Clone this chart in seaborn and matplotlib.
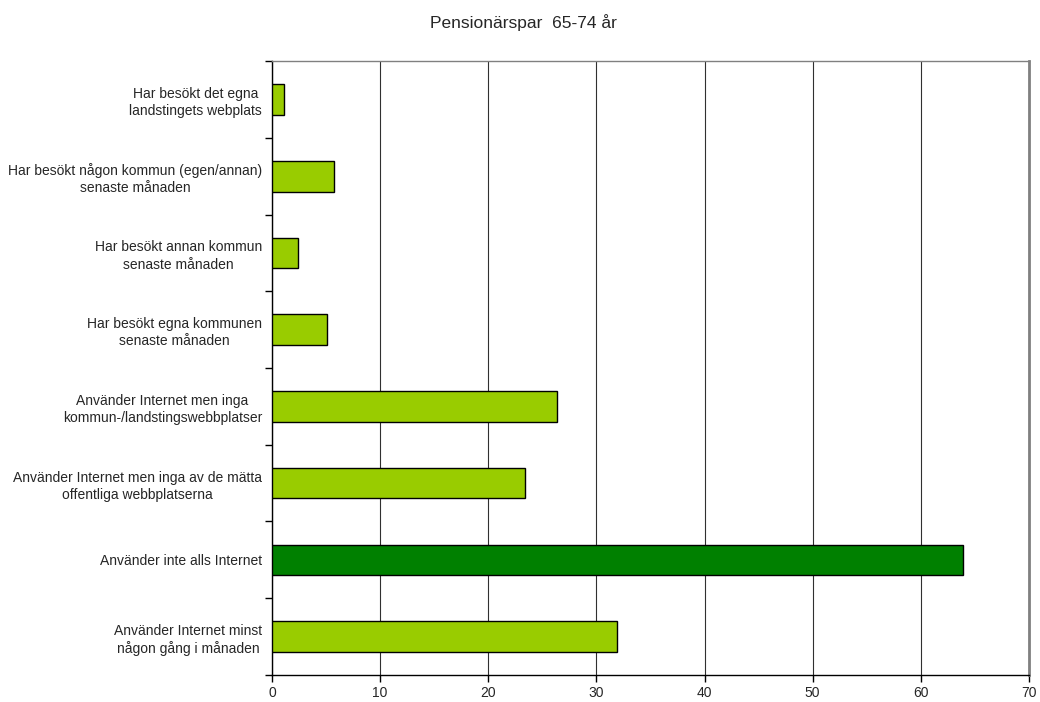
import matplotlib
matplotlib.use("Agg")
import matplotlib.pyplot as plt
import seaborn as sns
import pandas as pd

categories = [
    "Har besökt det egna\nlandstingets webplats",
    "Har besökt någon kommun (egen/annan)\nsenaste månaden",
    "Har besökt annan kommun\nsenaste månaden",
    "Har besökt egna kommunen\nsenaste månaden",
    "Använder Internet men inga\nkommun-/landstingswebbplatser",
    "Använder Internet men inga av de mätta\noffentliga webbplatserna",
    "Använder inte alls Internet",
    "Använder Internet minst\nnågon gång i månaden",
]
values = [1.1, 5.75, 2.4, 5.05, 26.4, 23.4, 63.9, 31.9]
groups = ["ljus", "ljus", "ljus", "ljus", "ljus", "ljus", "mork", "ljus"]
palette = {"ljus": "#99CC00", "mork": "#008000"}

df = pd.DataFrame({"kategori": categories, "andel": values, "grupp": groups})

sns.set_style("white")
plt.rcParams["font.family"] = ["Liberation Sans", "DejaVu Sans"]

fig = plt.figure(figsize=(10.4, 7.02), dpi=100)
ax = fig.add_axes([0.2615, 0.0385, 0.7279, 0.8745])

sns.barplot(data=df, x="andel", y="kategori", hue="grupp", palette=palette,
            order=categories, dodge=False, legend=False, width=0.4,
            saturation=1, edgecolor="black", linewidth=1.0, ax=ax, zorder=3)

ax.set_xlim(0, 70)
ax.set_ylim(len(categories) - 0.5, -0.5)
ax.set_xticks(range(0, 71, 10))
ax.set_xlabel("")
ax.set_ylabel("")
ax.xaxis.grid(True, color="#303030", linewidth=0.8, zorder=0)
ax.yaxis.grid(False)

ax.set_yticks(range(len(categories)))
ax.set_yticklabels(categories, multialignment="center", linespacing=1.3)
ax.set_yticks([i + 0.5 for i in range(-1, len(categories))], minor=True)
ax.tick_params(axis="y", which="major", length=0, pad=7, labelsize=10)
ax.tick_params(axis="y", which="minor", length=5, width=1, color="black", left=True)
ax.tick_params(axis="x", which="major", length=5, width=1, color="black",
               bottom=True, labelsize=10, pad=3)

for side in ["left", "bottom"]:
    ax.spines[side].set_color("black")
    ax.spines[side].set_linewidth(1)
ax.spines["top"].set_visible(True)
ax.spines["top"].set_color("#808080")
ax.spines["top"].set_linewidth(1)
ax.spines["right"].set_visible(True)
ax.spines["right"].set_color("#808080")
ax.spines["right"].set_linewidth(2)

fig.text(0.503, 0.968, "Pensionärspar  65-74 år", ha="center", va="center", fontsize=12.5)

fig.savefig("out.png", dpi=100)
